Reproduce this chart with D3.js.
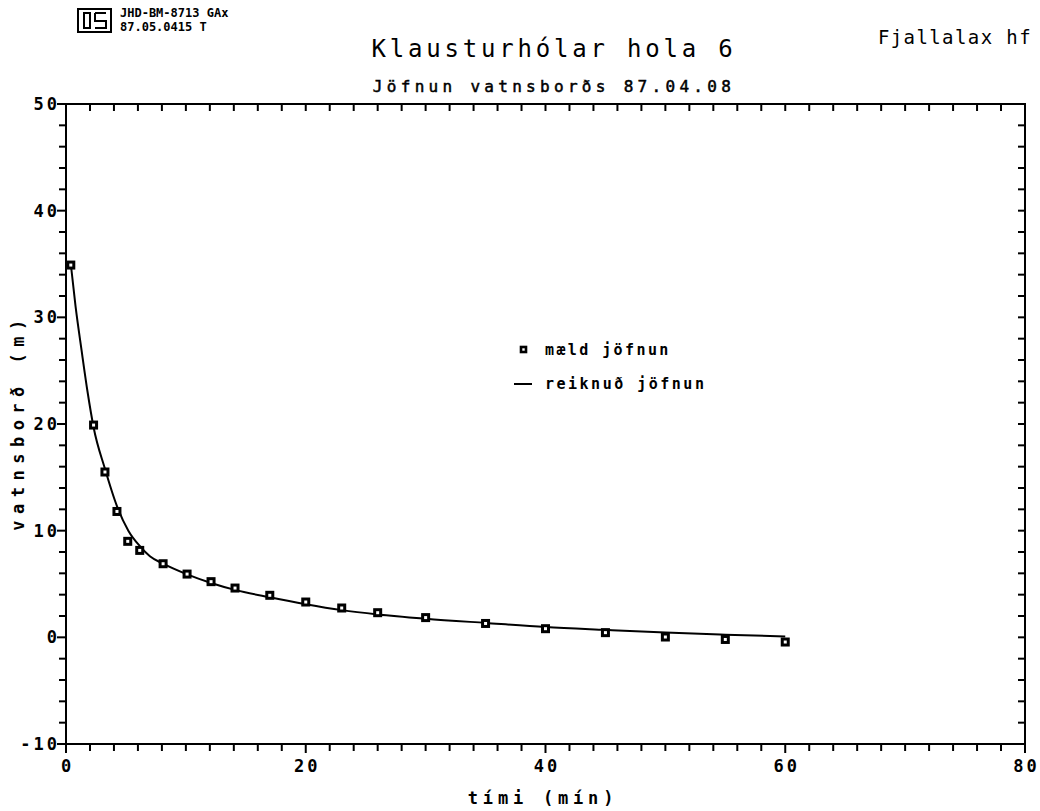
<!DOCTYPE html>
<html><head><meta charset="utf-8">
<script src="https://cdn.jsdelivr.net/npm/d3@7"></script>
<style>body{margin:0;background:#fff}text{font-family:"DejaVu Sans Mono",monospace;fill:#000}</style>
</head><body><svg id="c" width="1040" height="811"></svg>
<script>
// measured points (mæld jöfnun)
const measTime = [0.4, 2.3, 3.25, 4.25, 5.15, 6.15, 8.1, 10.1, 12.1, 14.1, 17, 20, 23, 26, 30, 35, 40, 45, 50, 55, 60];
const measLevel = [34.9, 19.9, 15.5, 11.8, 9.0, 8.15, 6.9, 5.93, 5.22, 4.62, 3.94, 3.31, 2.75, 2.31, 1.85, 1.3, 0.81, 0.44, 0.03, -0.2, -0.44];
// computed curve (reiknuð jöfnun)
const calcTime = [0.4, 0.8, 1.3, 1.8, 2.3, 3.25, 4.25, 5.2, 6.2, 7, 8.1, 10.1, 12.1, 14.1, 17, 20, 23, 26, 30, 35, 40, 45, 50, 55, 60];
const calcLevel = [35.0, 31.0, 26.9, 23.0, 19.7, 15.8, 12.3, 10.0, 8.5, 7.6, 6.9, 5.9, 5.1, 4.45, 3.75, 3.1, 2.55, 2.15, 1.75, 1.35, 0.97, 0.7, 0.45, 0.25, 0.08];
const xTickLabels = [0, 20, 40, 60, 80];
const yTickLabels = [-10, 0, 10, 20, 30, 40, 50];

const svg = d3.select("#c");
const L = 66, R = 1025, T = 104, B = 744;
const x = d3.scaleLinear().domain([0, 80]).range([L, R]);
const y = d3.scaleLinear().domain([-10, 50]).range([B, T]);

// frame
svg.append("rect").attr("x", L).attr("y", T).attr("width", R - L).attr("height", B - T)
  .attr("fill", "none").attr("stroke", "#000").attr("stroke-width", 2);

const xMinor = d3.range(0, 81, 2), yMinor = d3.range(-10, 51, 2);
const tk = svg.append("g").attr("stroke", "#000").attr("stroke-width", 2);
xMinor.forEach(v => {
  const maj = v % 20 === 0;
  tk.append("line").attr("x1", x(v)).attr("x2", x(v)).attr("y1", B).attr("y2", B + (maj ? 9 : 7));
  tk.append("line").attr("x1", x(v)).attr("x2", x(v)).attr("y1", T).attr("y2", T + 7);
});
yMinor.forEach(v => {
  const maj = v % 10 === 0;
  tk.append("line").attr("x1", L - (maj ? 9 : 7)).attr("x2", L).attr("y1", y(v)).attr("y2", y(v));
  tk.append("line").attr("x1", R - 7).attr("x2", R).attr("y1", y(v)).attr("y2", y(v));
});

// tick labels
svg.append("g").selectAll("text").data(xTickLabels).join("text")
  .attr("x", d => x(d) + 1.5).attr("y", B + 28).attr("text-anchor", "middle")
  .attr("font-size", 17).attr("font-weight", "bold").attr("letter-spacing", 3).text(d => d);
svg.append("g").selectAll("text").data(yTickLabels).join("text")
  .attr("x", L - 6).attr("y", d => y(d) + 6).attr("text-anchor", "end")
  .attr("font-size", 17).attr("font-weight", "bold").attr("letter-spacing", 3).text(d => d);

// axis titles
svg.append("text").attr("x", 543).attr("y", 804).attr("text-anchor", "middle")
  .attr("font-size", 17).attr("font-weight", "bold").attr("letter-spacing", 4.8).text("tími (mín)");
svg.append("text").attr("transform", "translate(24,422) rotate(-90)").attr("text-anchor", "middle")
  .attr("font-size", 17).attr("font-weight", "bold").attr("letter-spacing", 6.5).text("vatnsborð  (m)");

// titles
svg.append("text").attr("x", 554).attr("y", 57).attr("text-anchor", "middle")
  .attr("font-size", 24).attr("letter-spacing", 3.8).text("Klausturhólar hola 6");
svg.append("text").attr("x", 554).attr("y", 92).attr("text-anchor", "middle")
  .attr("font-size", 16).attr("stroke", "#000").attr("stroke-width", 0.5).attr("letter-spacing", 4.3)
  .text("Jöfnun vatnsborðs 87.04.08");
svg.append("text").attr("x", 1032).attr("y", 44).attr("text-anchor", "end")
  .attr("font-size", 19).attr("letter-spacing", 1.4).text("Fjallalax hf");

// logo box
const lg = svg.append("g").attr("stroke", "#000").attr("stroke-width", 2).attr("fill", "none");
lg.append("rect").attr("x", 78).attr("y", 9).attr("width", 33).attr("height", 23);
lg.append("path").attr("d", "M84 13 V28 H90 V13 Z M95 13 H106 M95 13 V21 H106 V28 H95");
svg.append("text").attr("x", 120).attr("y", 17).attr("font-size", 12).attr("font-weight", "bold").text("JHD-BM-8713 GAx");
svg.append("text").attr("x", 120).attr("y", 31).attr("font-size", 12).attr("font-weight", "bold").text("87.05.0415 T");

// curve
const calc = calcTime.map((t, i) => [t, calcLevel[i]]);
svg.append("path").datum(calc)
  .attr("d", d3.line().x(d => x(d[0])).y(d => y(d[1])).curve(d3.curveMonotoneX))
  .attr("fill", "none").attr("stroke", "#000").attr("stroke-width", 2);

// markers
const meas = measTime.map((t, i) => [t, measLevel[i]]);
svg.append("g").selectAll("rect").data(meas).join("rect")
  .attr("x", d => x(d[0]) - 3).attr("y", d => y(d[1]) - 3).attr("width", 6).attr("height", 6)
  .attr("fill", "#fff").attr("stroke", "#000").attr("stroke-width", 3);

// legend
svg.append("rect").attr("x", 521).attr("y", 347).attr("width", 5).attr("height", 5)
  .attr("fill", "#fff").attr("stroke", "#000").attr("stroke-width", 2.6);
svg.append("text").attr("x", 545).attr("y", 355).attr("font-size", 15).attr("font-weight", "bold")
  .attr("letter-spacing", 2.4).text("mæld jöfnun");
svg.append("line").attr("x1", 514).attr("x2", 532).attr("y1", 384).attr("y2", 384).attr("stroke", "#000").attr("stroke-width", 2);
svg.append("text").attr("x", 545).attr("y", 389).attr("font-size", 15).attr("font-weight", "bold")
  .attr("letter-spacing", 2.5).text("reiknuð jöfnun");
</script></body></html>
